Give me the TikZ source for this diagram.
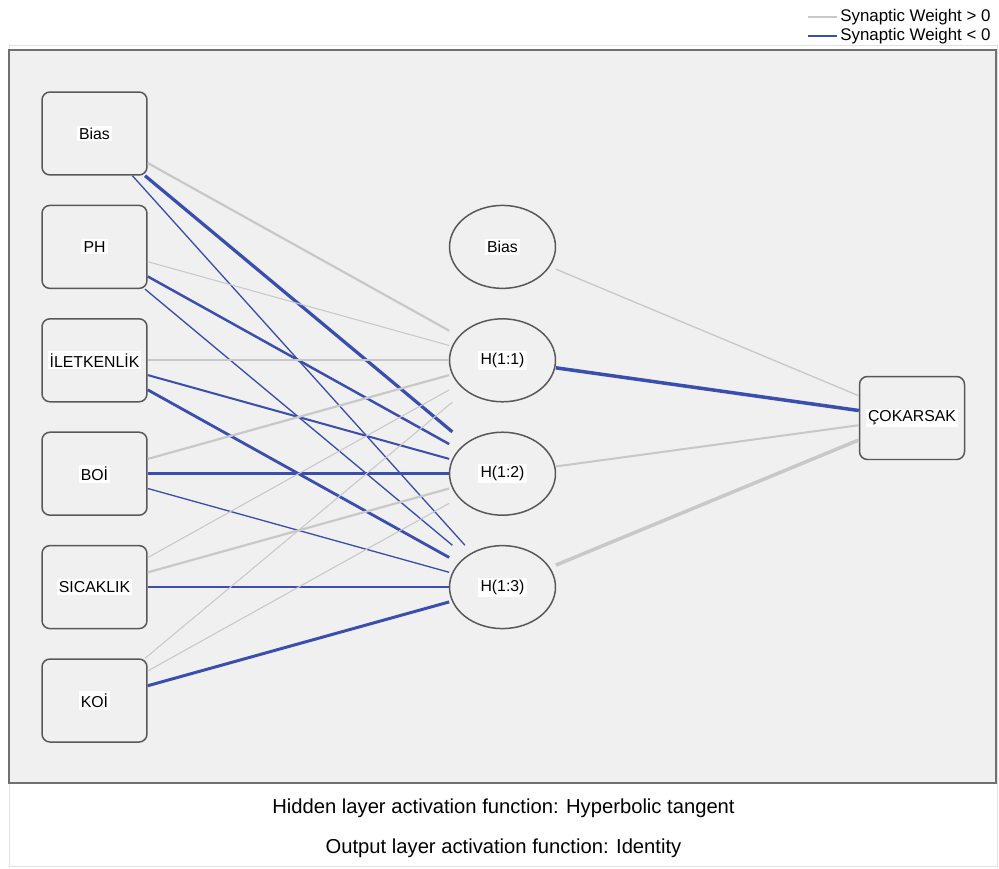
\documentclass[tikz,border=0pt]{standalone}
\usepackage{fontspec}
\setmainfont{Liberation Sans}
\usepackage{tikz}
\definecolor{panelGray} {RGB}{240,240,240}
\definecolor{frameGray} {RGB}{112,112,112}
\definecolor{edgeGray}  {RGB}{88, 88, 88}
\definecolor{posGray}   {RGB}{200,200,200}
\definecolor{negBlue}   {RGB}{58, 78, 176}
\newcommand{\wtag}[1]{{\setlength{\fboxsep}{1.2pt}\colorbox{white}{#1}}}

\begin{document}
\begin{tikzpicture}[x=0.02cm,y=-0.02cm,
    unitbox/.style={draw=edgeGray,line width=0.85pt,rounded corners=4.5pt,
                    minimum width=2.1cm,minimum height=1.66cm,inner sep=0pt,
                    font=\fontsize{9}{10}\selectfont},
    hidbox/.style={minimum width=2.12cm,minimum height=1.66cm,inner sep=0pt,
                   font=\fontsize{9}{10}\selectfont}]

    \fill[white] (0,0) rectangle (999,868);
    \useasboundingbox (0,0) rectangle (999,868);

    % ════════ cerceve ════════
    \draw[posGray!55,line width=0.5pt] (9,45) rectangle (997,866);
    \draw[frameGray,fill=panelGray,line width=1.1pt] (9,50) rectangle (996,783);

    % ════════ legend (sag ust) ════════
    \node[anchor=east,inner sep=1.8pt,font=\fontsize{9.6}{11}\selectfont]
      (legPos) at (994,17) {Synaptic Weight > 0};
    \node[anchor=east,inner sep=1.8pt,font=\fontsize{9.6}{11}\selectfont]
      (legNeg) at (994,36) {Synaptic Weight < 0};
    \coordinate (legPosL) at (808,17);
    \coordinate (legNegL) at (808,36);
    \draw[posGray,line width=0.7pt] (legPosL) -- (legPos);
    \draw[negBlue,line width=0.7pt] (legNegL) -- (legNeg);

    % ════════ input layer ════════
    \node[unitbox] (inBias) at (94.5,133.5) {\wtag{Bias}};
    \node[unitbox] (inPH)   at (94.5,246.9) {\wtag{PH}};
    \node[unitbox] (inIlet) at (94.5,360.3) {\wtag{İLETKENLİK}};
    \node[unitbox] (inBoi)  at (94.5,473.7) {\wtag{BOİ}};
    \node[unitbox] (inSic)  at (94.5,587.1) {\wtag{SICAKLIK}};
    \node[unitbox] (inKoi)  at (94.5,700.5) {\wtag{KOİ}};

    % ════════ hidden layer ════════
    \node[hidbox] (hidBias) at (502.5,246.9) {\wtag{Bias}};
    \node[hidbox] (hidA)    at (502.5,360.3) {\wtag{H(1:1)}};
    \node[hidbox] (hidB)    at (502.5,473.7) {\wtag{H(1:2)}};
    \node[hidbox] (hidC)    at (502.5,587.1) {\wtag{H(1:3)}};
    \foreach \h in {hidBias,hidA,hidB,hidC}{
      \draw[edgeGray,line width=0.85pt] (\h.center)
        ellipse [x radius=1.06cm,y radius=0.83cm];
    }

    % ════════ output layer ════════
    \node[unitbox] (outCok) at (912,418) {\wtag{ÇOKARSAK}};

    % ════════ synaptic weights ════════
    \foreach \src/\dst/\col/\w in {
        inBias/hidA/posGray/1.25, inBias/hidB/negBlue/1.85, inBias/hidC/negBlue/0.75,
        inPH/hidA/posGray/0.6,    inPH/hidB/negBlue/1.4,    inPH/hidC/negBlue/0.75,
        inIlet/hidA/posGray/1.25, inIlet/hidB/negBlue/1.15, inIlet/hidC/negBlue/1.6,
        inBoi/hidA/posGray/1.25,  inBoi/hidB/negBlue/1.85,  inBoi/hidC/negBlue/0.75,
        inSic/hidA/posGray/0.6,   inSic/hidB/posGray/1.25,  inSic/hidC/negBlue/1.4,
        inKoi/hidA/posGray/0.6,   inKoi/hidB/posGray/0.6,   inKoi/hidC/negBlue/1.7,
        hidBias/outCok/posGray/0.75, hidA/outCok/negBlue/2.0,
        hidB/outCok/posGray/1.15,    hidC/outCok/posGray/2.0}{
      \draw[\col,line width=\w pt] (\src) -- (\dst);
    }

    % ════════ activation functions ════════
    \node[font=\fontsize{11.5}{13}\selectfont] (capHid) at (503.5,808)
      {Hidden layer activation function: Hyperbolic tangent};
    \node[font=\fontsize{11.5}{13}\selectfont] (capOut) at (503.5,848)
      {Output layer activation function: Identity};

\end{tikzpicture}
\end{document}
